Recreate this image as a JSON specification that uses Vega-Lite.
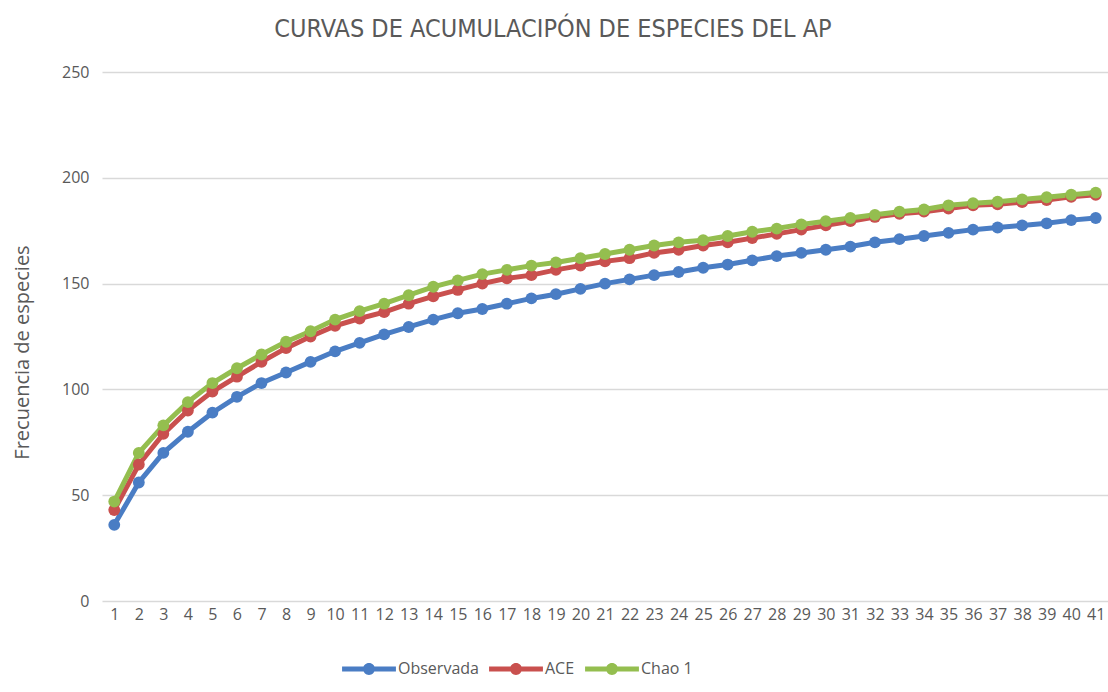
{
  "$schema": "https://vega.github.io/schema/vega-lite/v6.json",
  "autosize": "none",
  "width": 1006,
  "height": 529,
  "padding": {"left": 102, "top": 72, "right": 0, "bottom": 91},
  "background": "white",
  "title": {
    "text": "CURVAS DE ACUMULACIPÓN DE ESPECIES DEL AP",
    "font": "DejaVu Sans Condensed, Liberation Sans, sans-serif",
    "fontSize": 25,
    "fontWeight": "normal",
    "color": "#595959",
    "anchor": "middle",
    "dx": -52,
    "offset": 22
  },
  "data": {
    "values": [
      {"m": 1, "serie": "Observada", "v": 36},
      {"m": 2, "serie": "Observada", "v": 56},
      {"m": 3, "serie": "Observada", "v": 70},
      {"m": 4, "serie": "Observada", "v": 80},
      {"m": 5, "serie": "Observada", "v": 89},
      {"m": 6, "serie": "Observada", "v": 96.5},
      {"m": 7, "serie": "Observada", "v": 103},
      {"m": 8, "serie": "Observada", "v": 108},
      {"m": 9, "serie": "Observada", "v": 113},
      {"m": 10, "serie": "Observada", "v": 118},
      {"m": 11, "serie": "Observada", "v": 122},
      {"m": 12, "serie": "Observada", "v": 126},
      {"m": 13, "serie": "Observada", "v": 129.5},
      {"m": 14, "serie": "Observada", "v": 133},
      {"m": 15, "serie": "Observada", "v": 136},
      {"m": 16, "serie": "Observada", "v": 138},
      {"m": 17, "serie": "Observada", "v": 140.5},
      {"m": 18, "serie": "Observada", "v": 143},
      {"m": 19, "serie": "Observada", "v": 145},
      {"m": 20, "serie": "Observada", "v": 147.5},
      {"m": 21, "serie": "Observada", "v": 150},
      {"m": 22, "serie": "Observada", "v": 152},
      {"m": 23, "serie": "Observada", "v": 154},
      {"m": 24, "serie": "Observada", "v": 155.5},
      {"m": 25, "serie": "Observada", "v": 157.5},
      {"m": 26, "serie": "Observada", "v": 159},
      {"m": 27, "serie": "Observada", "v": 161},
      {"m": 28, "serie": "Observada", "v": 163},
      {"m": 29, "serie": "Observada", "v": 164.5},
      {"m": 30, "serie": "Observada", "v": 166},
      {"m": 31, "serie": "Observada", "v": 167.5},
      {"m": 32, "serie": "Observada", "v": 169.5},
      {"m": 33, "serie": "Observada", "v": 171},
      {"m": 34, "serie": "Observada", "v": 172.5},
      {"m": 35, "serie": "Observada", "v": 174},
      {"m": 36, "serie": "Observada", "v": 175.5},
      {"m": 37, "serie": "Observada", "v": 176.5},
      {"m": 38, "serie": "Observada", "v": 177.5},
      {"m": 39, "serie": "Observada", "v": 178.5},
      {"m": 40, "serie": "Observada", "v": 180},
      {"m": 41, "serie": "Observada", "v": 181},
      {"m": 1, "serie": "ACE", "v": 43},
      {"m": 2, "serie": "ACE", "v": 64.5},
      {"m": 3, "serie": "ACE", "v": 79},
      {"m": 4, "serie": "ACE", "v": 90},
      {"m": 5, "serie": "ACE", "v": 99},
      {"m": 6, "serie": "ACE", "v": 106},
      {"m": 7, "serie": "ACE", "v": 113},
      {"m": 8, "serie": "ACE", "v": 119.5},
      {"m": 9, "serie": "ACE", "v": 125},
      {"m": 10, "serie": "ACE", "v": 130},
      {"m": 11, "serie": "ACE", "v": 133.5},
      {"m": 12, "serie": "ACE", "v": 136.5},
      {"m": 13, "serie": "ACE", "v": 140.5},
      {"m": 14, "serie": "ACE", "v": 144},
      {"m": 15, "serie": "ACE", "v": 147},
      {"m": 16, "serie": "ACE", "v": 150},
      {"m": 17, "serie": "ACE", "v": 152.5},
      {"m": 18, "serie": "ACE", "v": 154},
      {"m": 19, "serie": "ACE", "v": 156.5},
      {"m": 20, "serie": "ACE", "v": 158.5},
      {"m": 21, "serie": "ACE", "v": 160.5},
      {"m": 22, "serie": "ACE", "v": 162},
      {"m": 23, "serie": "ACE", "v": 164.5},
      {"m": 24, "serie": "ACE", "v": 166},
      {"m": 25, "serie": "ACE", "v": 168},
      {"m": 26, "serie": "ACE", "v": 169.5},
      {"m": 27, "serie": "ACE", "v": 171.5},
      {"m": 28, "serie": "ACE", "v": 173.5},
      {"m": 29, "serie": "ACE", "v": 175.5},
      {"m": 30, "serie": "ACE", "v": 177.5},
      {"m": 31, "serie": "ACE", "v": 179.5},
      {"m": 32, "serie": "ACE", "v": 181.5},
      {"m": 33, "serie": "ACE", "v": 183},
      {"m": 34, "serie": "ACE", "v": 184},
      {"m": 35, "serie": "ACE", "v": 185.5},
      {"m": 36, "serie": "ACE", "v": 187},
      {"m": 37, "serie": "ACE", "v": 187.5},
      {"m": 38, "serie": "ACE", "v": 188.5},
      {"m": 39, "serie": "ACE", "v": 189.5},
      {"m": 40, "serie": "ACE", "v": 191},
      {"m": 41, "serie": "ACE", "v": 192},
      {"m": 1, "serie": "Chao 1", "v": 47},
      {"m": 2, "serie": "Chao 1", "v": 70},
      {"m": 3, "serie": "Chao 1", "v": 83},
      {"m": 4, "serie": "Chao 1", "v": 94},
      {"m": 5, "serie": "Chao 1", "v": 103},
      {"m": 6, "serie": "Chao 1", "v": 110},
      {"m": 7, "serie": "Chao 1", "v": 116.5},
      {"m": 8, "serie": "Chao 1", "v": 122.5},
      {"m": 9, "serie": "Chao 1", "v": 127.5},
      {"m": 10, "serie": "Chao 1", "v": 133},
      {"m": 11, "serie": "Chao 1", "v": 137},
      {"m": 12, "serie": "Chao 1", "v": 140.5},
      {"m": 13, "serie": "Chao 1", "v": 144.5},
      {"m": 14, "serie": "Chao 1", "v": 148.5},
      {"m": 15, "serie": "Chao 1", "v": 151.5},
      {"m": 16, "serie": "Chao 1", "v": 154.5},
      {"m": 17, "serie": "Chao 1", "v": 156.5},
      {"m": 18, "serie": "Chao 1", "v": 158.5},
      {"m": 19, "serie": "Chao 1", "v": 160},
      {"m": 20, "serie": "Chao 1", "v": 162},
      {"m": 21, "serie": "Chao 1", "v": 164},
      {"m": 22, "serie": "Chao 1", "v": 166},
      {"m": 23, "serie": "Chao 1", "v": 168},
      {"m": 24, "serie": "Chao 1", "v": 169.5},
      {"m": 25, "serie": "Chao 1", "v": 170.5},
      {"m": 26, "serie": "Chao 1", "v": 172.5},
      {"m": 27, "serie": "Chao 1", "v": 174.5},
      {"m": 28, "serie": "Chao 1", "v": 176},
      {"m": 29, "serie": "Chao 1", "v": 178},
      {"m": 30, "serie": "Chao 1", "v": 179.5},
      {"m": 31, "serie": "Chao 1", "v": 181},
      {"m": 32, "serie": "Chao 1", "v": 182.5},
      {"m": 33, "serie": "Chao 1", "v": 184},
      {"m": 34, "serie": "Chao 1", "v": 185},
      {"m": 35, "serie": "Chao 1", "v": 187},
      {"m": 36, "serie": "Chao 1", "v": 188},
      {"m": 37, "serie": "Chao 1", "v": 188.7},
      {"m": 38, "serie": "Chao 1", "v": 189.8},
      {"m": 39, "serie": "Chao 1", "v": 190.8},
      {"m": 40, "serie": "Chao 1", "v": 192},
      {"m": 41, "serie": "Chao 1", "v": 193}
    ]
  },
  "mark": {
    "type": "line",
    "strokeWidth": 5,
    "point": {"filled": true, "size": 140, "opacity": 1}
  },
  "encoding": {
    "x": {
      "field": "m",
      "type": "ordinal",
      "sort": "ascending",
      "axis": {
        "title": null,
        "labelAngle": 0,
        "labelOverlap": false,
        "labelFont": "Open Sans",
        "labelFontSize": 16,
        "labelColor": "#595959",
        "labelPadding": 5,
        "domain": false,
        "ticks": false,
        "grid": false
      }
    },
    "y": {
      "field": "v",
      "type": "quantitative",
      "scale": {"domain": [0, 250], "nice": false},
      "axis": {
        "values": [0, 50, 100, 150, 200, 250],
        "title": "Frecuencia de especies",
        "titleFont": "Open Sans",
        "titleFontSize": 20,
        "titleFontWeight": "normal",
        "titleColor": "#595959",
        "titleX": -80,
        "titleY": 280,
        "titleAngle": -90,
        "titleAlign": "center",
        "titleBaseline": "middle",
        "labelFont": "Open Sans",
        "labelFontSize": 16,
        "labelColor": "#595959",
        "labelPadding": 13,
        "domain": false,
        "ticks": false,
        "gridColor": "#D9D9D9",
        "gridWidth": 1.5
      }
    },
    "color": {
      "field": "serie",
      "type": "nominal",
      "sort": ["Observada", "ACE", "Chao 1"],
      "scale": {
        "domain": ["Observada", "ACE", "Chao 1"],
        "range": ["#4A7DC4", "#C9504E", "#94BE4F"]
      },
      "legend": {
        "title": null,
        "orient": "none",
        "direction": "horizontal",
        "legendX": 240,
        "legendY": 570,
        "symbolType": "M-1,-0.09L1,-0.09L1,0.09L-1,0.09Z M0.22,0A0.22,0.22,0,1,1,-0.22,0A0.22,0.22,0,1,1,0.22,0Z",
        "symbolSize": 2900,
        "symbolStrokeWidth": 0,
        "labelFont": "Open Sans",
        "labelFontSize": 16,
        "labelColor": "#595959",
        "labelOffset": 2,
        "columnPadding": 10,
        "encode": {
          "symbols": {"update": {"fill": {"scale": "color", "field": "value"}, "opacity": {"value": 1}}}
        }
      }
    }
  },
  "config": {"view": {"stroke": null}}
}
